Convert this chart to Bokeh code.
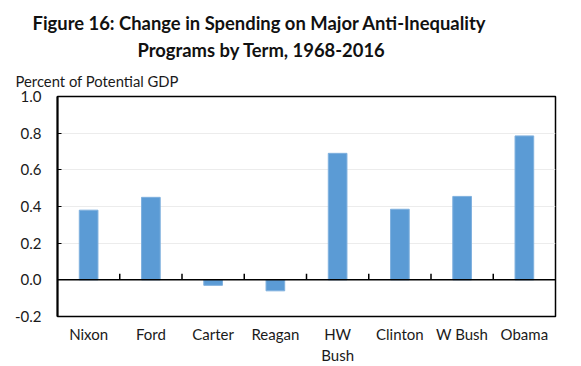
from bokeh.plotting import figure
from bokeh.models import Title, Span, FixedTicker, NumeralTickFormatter, ColumnDataSource, Range1d
from bokeh.embed import file_html
from bokeh.resources import INLINE

terms = ["Nixon", "Ford", "Carter", "Reagan", "HW\nBush", "Clinton", "W Bush", "Obama"]
change = [0.38, 0.45, -0.03, -0.06, 0.69, 0.385, 0.455, 0.785]
y_ticks = [-0.2, 0.0, 0.2, 0.4, 0.6, 0.8, 1.0]

title1 = "Figure 16: Change in Spending on Major Anti-Inequality"
title2 = "Programs by Term, 1968-2016"
y_label = "Percent of Potential GDP"

FONT = "Lato"
BLUE = "#5B9BD5"

xpos = [i + 0.5 for i in range(len(terms))]
src = ColumnDataSource(dict(x=xpos, top=change))

p = figure(frame_width=498, frame_height=220, output_backend="svg", toolbar_location=None,
           x_range=Range1d(0, len(terms)), y_range=Range1d(-0.2, 1.0),
           min_border_left=57, min_border_right=16, min_border_top=96, min_border_bottom=10)
p.title = None

p.add_layout(Title(text=y_label, align="left", offset=-42, text_font=FONT,
                   text_font_size="14.8px", text_font_style="normal", text_color="#1a1a1a",
                   standoff=13), "above")
p.add_layout(Title(text=title2, align="left", offset=80, text_font=FONT,
                   text_font_size="18.4px", text_font_style="bold", text_color="#111111",
                   standoff=6), "above")
p.add_layout(Title(text=title1, align="left", offset=-25, text_font=FONT,
                   text_font_size="18.4px", text_font_style="bold", text_color="#111111",
                   standoff=0), "above")

p.ygrid.grid_line_color = "#ececec"
p.ygrid.grid_line_width = 1
p.ygrid.ticker = FixedTicker(ticks=[0.2, 0.4, 0.6, 0.8])
p.xgrid.grid_line_color = None

p.vbar(x="x", top="top", width=0.3, source=src, fill_color=BLUE, line_color="#7FB0DE", line_width=1)

p.add_layout(Span(location=0, dimension="width", line_color="black", line_width=1.5))
bounds = list(range(1, len(terms)))
p.segment(x0=bounds, y0=[0] * len(bounds), x1=bounds, y1=[0.033] * len(bounds),
          line_color="black", line_width=1.5)

p.outline_line_color = "black"
p.outline_line_width = 1.5
p.outline_line_alpha = 1

yax = p.yaxis[0]
yax.ticker = FixedTicker(ticks=y_ticks)
yax.formatter = NumeralTickFormatter(format="0.0")
yax.axis_line_color = "black"
yax.axis_line_width = 2
yax.major_tick_in = 4
yax.major_tick_out = 0
yax.major_tick_line_color = "black"
yax.minor_tick_line_color = None
yax.major_label_standoff = 16
yax.major_label_text_font = FONT
yax.major_label_text_font_size = "15px"
yax.major_label_text_color = "#1a1a1a"

xax = p.xaxis[0]
xax.ticker = FixedTicker(ticks=xpos)
xax.major_label_overrides = {x: t for x, t in zip(xpos, terms)}
xax.axis_line_color = None
xax.major_tick_line_color = None
xax.minor_tick_line_color = None
xax.major_label_standoff = 2
xax.major_label_text_font = FONT
xax.major_label_text_font_size = "15px"
xax.major_label_text_color = "#1a1a1a"

open("out.html", "w").write(file_html(p, INLINE))
